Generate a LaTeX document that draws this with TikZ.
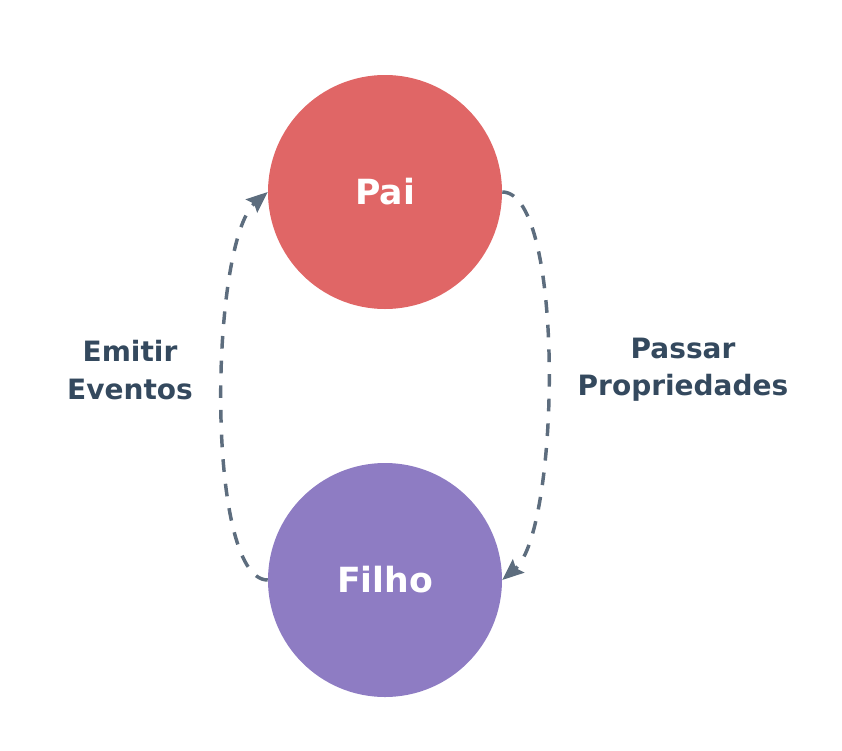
\documentclass[tikz,border=0pt]{standalone}
\usepackage{fontspec}
\setmainfont{DejaVu Sans}
\usetikzlibrary{arrows.meta}
\definecolor{pai}{HTML}{E06666}
\definecolor{filho}{HTML}{8E7CC3}
\definecolor{txt}{HTML}{34495E}
\definecolor{arr}{HTML}{5D6D7E}
\begin{document}
\begin{tikzpicture}[x=0.75pt,y=-0.75pt,
  circ/.style={circle,minimum size=175.5pt,inner sep=0pt,text=white,font=\bfseries\fontsize{26}{30}\selectfont},
  lbl/.style={text=txt,align=center,font=\bfseries\fontsize{21}{28}\selectfont},
  link/.style={draw=arr,line width=2.6pt,dash pattern=on 9.5pt off 9pt,-{Stealth[length=16pt,width=13pt,inset=2.5pt]}}]
\useasboundingbox (0,0) rectangle (842,750);
\node[circ,fill=pai] (pai) at (385,192) {Pai};
\node[circ,fill=filho] (filho) at (385,580) {Filho};
\node[lbl] (props) at (683,370) {Passar\\Propriedades};
\node[lbl] (evts) at (130,370) {Emitir\\Eventos};
\draw[link] (pai.east) .. controls ++(63,0) and ++(58,-50) .. (filho.east);
\draw[link] (filho.west) .. controls ++(-63,0) and ++(-58,50) .. (pai.west);
\end{tikzpicture}
\end{document}
